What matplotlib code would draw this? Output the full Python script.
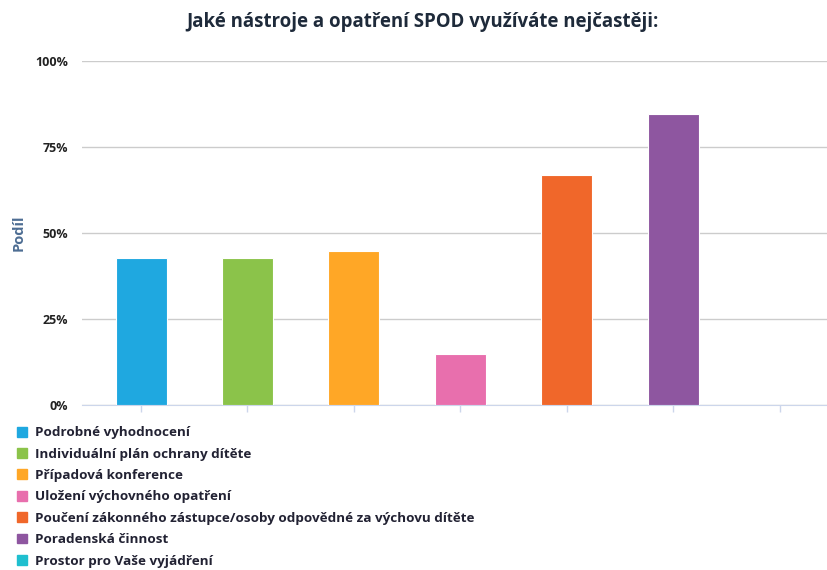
import matplotlib
matplotlib.use("Agg")
import matplotlib.pyplot as plt
from matplotlib.patches import Patch
from matplotlib.ticker import FuncFormatter

categories = [
    "Podrobné vyhodnocení",
    "Individuální plán ochrany dítěte",
    "Případová konference",
    "Uložení výchovného opatření",
    "Poučení zákonného zástupce/osoby odpovědné za výchovu dítěte",
    "Poradenská činnost",
    "Prostor pro Vaše vyjádření",
]
values = [42.7, 42.7, 44.8, 14.8, 66.9, 84.5, 0.0]
colors = ["#1fa8e0", "#8bc34a", "#ffa726", "#e86fad", "#f0672a", "#8e56a0", "#1fbfcf"]
yticks = [0, 25, 50, 75, 100]

plt.rcParams['font.family'] = ['Open Sans', 'DejaVu Sans']

fig = plt.figure(figsize=(8.27, 5.70), dpi=100)
ax = fig.add_axes([82/827, 1-405/570, 1-82/827, (405-61)/570])

x = list(range(len(categories)))
ax.bar(x, values, width=0.48, color=colors, edgecolor="white", linewidth=0.8, zorder=3)

ax.set_xlim(-0.555, 6.445)
ax.set_ylim(0, 100)
ax.set_yticks(yticks)
ax.yaxis.set_major_formatter(FuncFormatter(lambda v, p: f"{int(v)}%"))
ax.grid(axis="y", color="#cccccc", linewidth=1, zorder=0)
ax.set_xticks(x)
ax.set_xticklabels([])
ax.tick_params(axis="x", length=5, color="#ccd6eb", width=1)
ax.tick_params(axis="y", length=0, pad=10, labelsize=9, labelcolor="#222222")
for lbl in ax.get_yticklabels():
    lbl.set_fontweight("bold")
for s in ["top", "right", "left"]:
    ax.spines[s].set_visible(False)
ax.spines["bottom"].set_color("#ccd6eb")

ax.set_ylabel("Podíl", fontsize=10.5, fontweight="bold", color="#4d6d93", labelpad=7)

fig.text(0.511, 1-22/570, "Jaké nástroje a opatření SPOD využíváte nejčastěji:",
         ha="center", va="center", fontsize=13.4, fontweight="bold", color="#1e2a3a")

handles = [Patch(facecolor=c, edgecolor=c) for c in colors]
leg = fig.legend(handles, categories, loc="upper left", bbox_to_anchor=(12/827, 1-421/570),
                 frameon=False, handlelength=0.75, handleheight=0.75, handletextpad=0.55,
                 labelspacing=0.62, fontsize=9.7, borderaxespad=0)
for t in leg.get_texts():
    t.set_fontweight("bold")
    t.set_color("#222233")

fig.savefig("out.png", dpi=100)
